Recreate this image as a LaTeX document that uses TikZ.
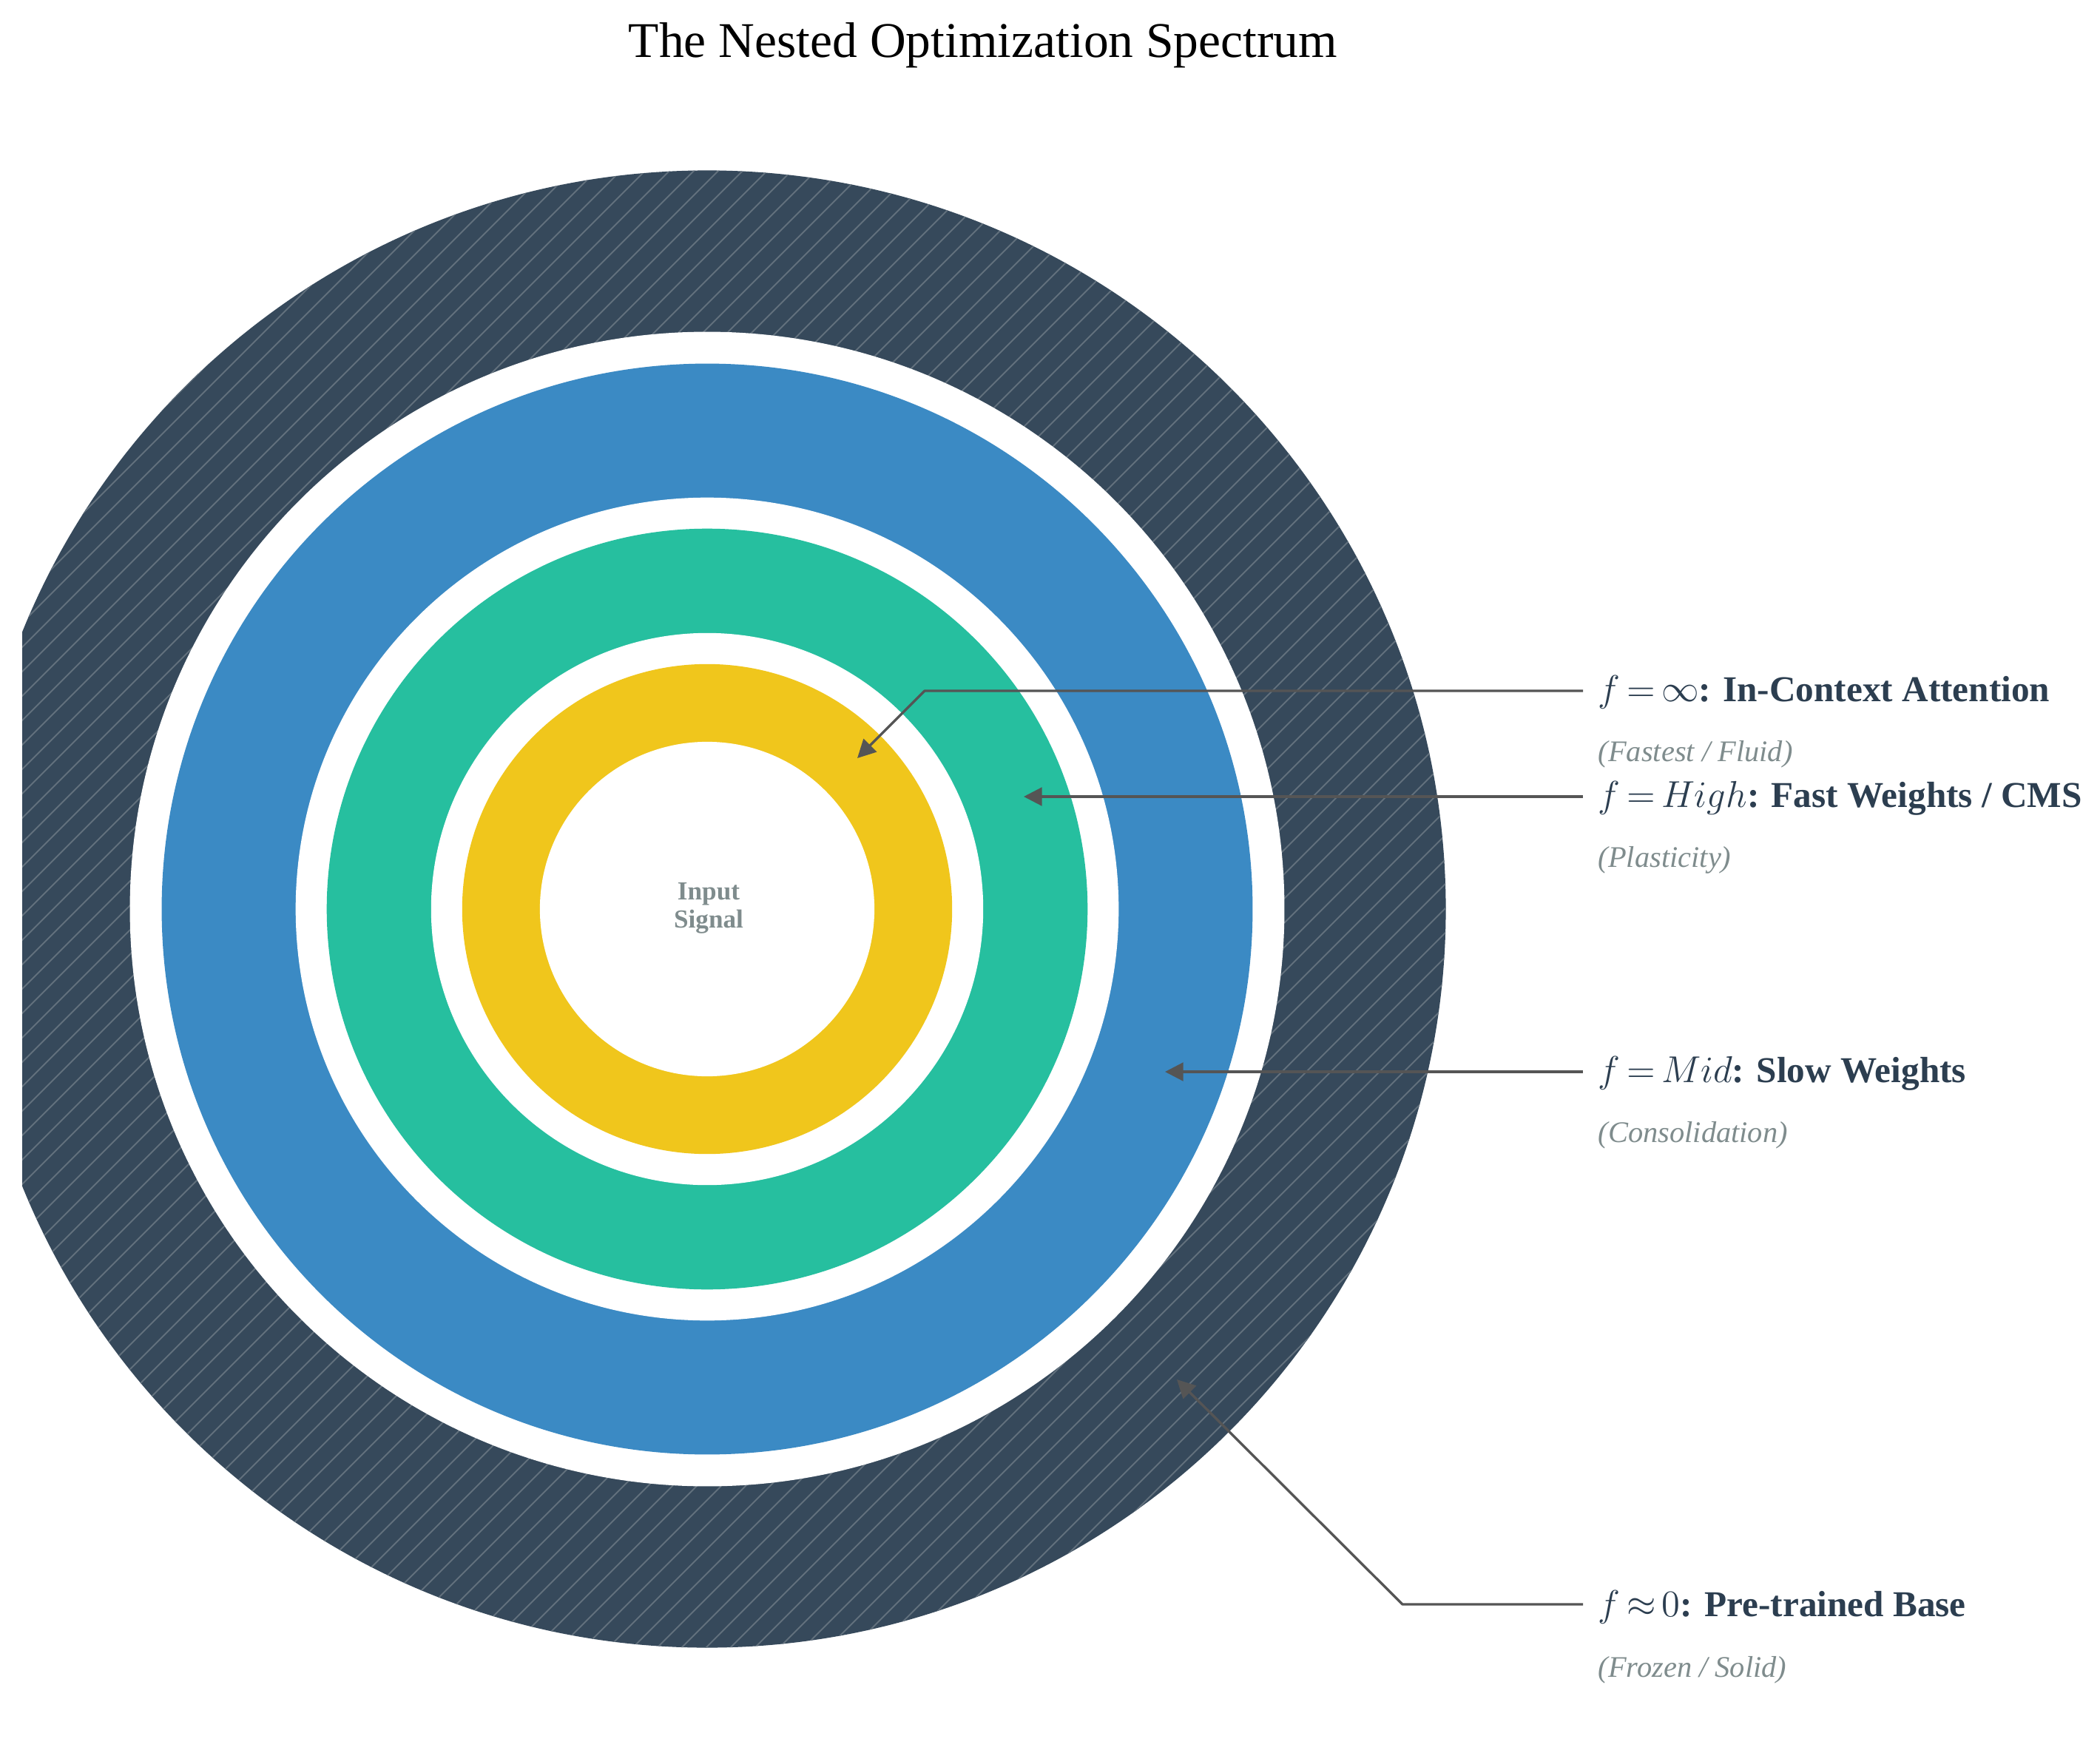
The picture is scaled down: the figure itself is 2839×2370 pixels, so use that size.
\documentclass[tikz,border=0pt]{standalone}
\usepackage[no-math]{fontspec}
\setmainfont{Liberation Serif}
\usetikzlibrary{arrows.meta}
\definecolor{darkring}{RGB}{54,73,91}
\definecolor{hatchc}{RGB}{98,112,125}
\definecolor{bluering}{RGB}{59,138,196}
\definecolor{greenring}{RGB}{38,191,159}
\definecolor{yellowring}{RGB}{240,198,28}
\definecolor{labelc}{RGB}{44,62,80}
\definecolor{subc}{RGB}{127,140,141}
\definecolor{arrowc}{RGB}{85,85,85}
\begin{document}
\thickmuskip=3mu plus 2mu\relax
\begin{tikzpicture}[x=0.01cm,y=-0.01cm,
  hatchline/.style={draw=hatchc,line width=0.55pt},
  lbl/.style={anchor=base west,inner sep=0pt,text=labelc,font=\fontsize{14}{16}\selectfont\bfseries},
  sublbl/.style={anchor=base west,inner sep=0pt,text=subc,font=\fontsize{11.5}{13}\selectfont\itshape},
  conn/.style={draw=arrowc,line width=0.95pt,line join=round,-{Triangle[length=7pt,width=7pt]}},
  titlestyle/.style={anchor=base,inner sep=0pt,text=black,font=\fontsize{19.2}{22}\selectfont},
  inputstyle/.style={align=center,inner sep=0pt,text=subc,font=\fontsize{10}{10.8}\selectfont\bfseries}]
\useasboundingbox (0,0) rectangle (2839,2370);
\fill[white] (0,0) rectangle (2839,2370);
\coordinate (C) at (956,1229);
% outer hatched ring (clipped at the left edge)
\begin{scope}
  \clip (30,0) rectangle (2839,2370);
  \fill[darkring] (C) circle[radius=9.98cm];
  \clip (C) circle[radius=9.98cm];
  \foreach \k in {0,...,92} {
    \draw[hatchline] ({740+33*\k},0) -- ({740+33*\k-2500},2500);
  }
\end{scope}
\fill[white] (C) circle[radius=7.80cm];
\fill[bluering] (C) circle[radius=7.37cm];
\fill[white] (C) circle[radius=5.56cm];
\fill[greenring] (C) circle[radius=5.14cm];
\fill[white] (C) circle[radius=3.73cm];
\fill[yellowring] (C) circle[radius=3.31cm];
\fill[white] (C) circle[radius=2.26cm];
% texts
\node[titlestyle] (title) at (1329,78) {The Nested Optimization Spectrum};
\node[inputstyle] (input) at (958,1228) {Input\\Signal};
\node[lbl] (lA) at (2160,948) {$f=\infty$: In-Context Attention};
\node[sublbl] (sA) at (2160,1029) {(Fastest / Fluid)};
\node[lbl] (lB) at (2160,1091) {$f=High$: Fast Weights / CMS};
\node[sublbl] (sB) at (2160,1172) {(Plasticity)};
\node[lbl] (lC) at (2160,1463) {$f=Mid$: Slow Weights};
\node[sublbl] (sC) at (2160,1544) {(Consolidation)};
\node[lbl] (lD) at (2160,2185) {$f\approx0$: Pre-trained Base};
\node[sublbl] (sD) at (2160,2267) {(Frozen / Solid)};
% connectors
\coordinate (aS) at (2140,934);
\coordinate (aE) at (1250,934);
\coordinate (aT) at (1159,1025);
\coordinate (bS) at (2140,1077);
\coordinate (bT) at (1384,1077);
\coordinate (cS) at (2140,1449);
\coordinate (cT) at (1575,1449);
\coordinate (dS) at (2140,2169);
\coordinate (dE) at (1896,2169);
\coordinate (dT) at (1591,1865);
\draw[conn] (aS) -- (aE) -- (aT);
\draw[conn] (bS) -- (bT);
\draw[conn] (cS) -- (cT);
\draw[conn] (dS) -- (dE) -- (dT);
\end{tikzpicture}
\end{document}
